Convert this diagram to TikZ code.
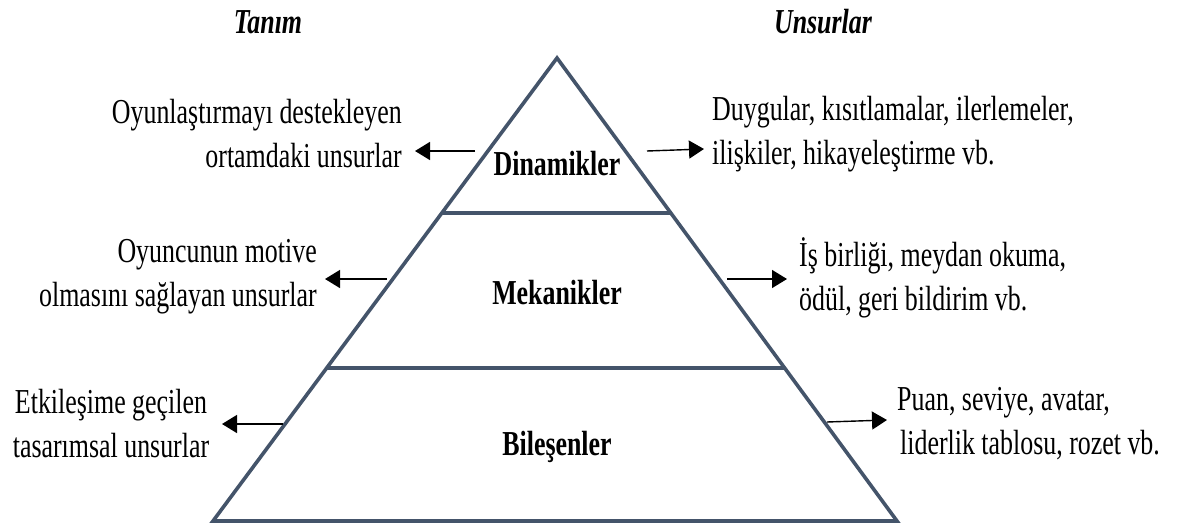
\documentclass[tikz,border=0pt]{standalone}
\usepackage{fontspec}
\setmainfont{Liberation Serif}[FakeStretch=0.74]
\usetikzlibrary{arrows.meta,calc}
\definecolor{edge}{HTML}{44546A}
\begin{document}
\begin{tikzpicture}[x=1pt,y=-1pt,
  pyramid/.style={draw=edge, line width=3.6pt, line join=miter},
  txt/.style={inner sep=0pt, font=\fontsize{35}{44}\selectfont},
  head/.style={txt, font=\fontsize{35}{44}\selectfont\bfseries\itshape},
  level/.style={txt, font=\fontsize{35}{44}\selectfont\bfseries},
  lefttxt/.style={txt, anchor=east, align=right},
  righttxt/.style={txt, anchor=west, align=left},
  pointer/.style={line width=1.4pt, -{Triangle[length=15pt,width=18pt]}}
]
\useasboundingbox (0,0) rectangle (1178,530);

% pyramid outline and level dividers
\coordinate (apex) at (557,58);
\coordinate (bl) at (213,521);
\coordinate (br) at (897,521);
\draw[pyramid] (apex) -- (br) -- (bl) -- cycle;
\coordinate (d1l) at ($(apex)!0.3348!(bl)$);
\coordinate (d1r) at ($(apex)!0.3348!(br)$);
\coordinate (d2l) at ($(apex)!0.6695!(bl)$);
\coordinate (d2r) at ($(apex)!0.6695!(br)$);
\draw[pyramid] (d1l) -- (d1r);
\draw[pyramid] (d2l) -- (d2r);

% column headings
\node[head] (hdef) at (268,22) {Tanım};
\node[head] (hel) at (823,22) {Unsurlar};

% level names
\node[level] (dyn) at (557,164) {Dinamikler};
\node[level] (mek) at (557,293) {Mekanikler};
\node[level] (bil) at (557,447) {Bileşenler};

% definitions (left)
\node[lefttxt] (ldyn) at (402,134) {Oyunlaştırmayı destekleyen\\ortamdaki unsurlar};
\node[lefttxt] (lmek) at (317,277) {Oyuncunun motive\\olmasını sağlayan unsurlar};
\node[txt, align=center] (lbil) at (111,424) {Etkileşime geçilen\\tasarımsal unsurlar};

% elements (right)
\node[righttxt] (rdyn) at (712,134) {Duygular, kısıtlamalar, ilerlemeler,\\ilişkiler, hikayeleştirme vb.};
\node[righttxt] (rmek) at (799,278) {İş birliği, meydan okuma,\\ödül, geri bildirim vb.};
\node[righttxt] (rbil) at (897,424) {Puan, seviye, avatar,\\\hspace*{3pt}liderlik tablosu, rozet vb.};

% pointer arrows
\coordinate (a1s) at (475,151); \coordinate (a1e) at (415,151);
\coordinate (a2s) at (647,151); \coordinate (a2e) at (704,149);
\coordinate (a3s) at (387,279); \coordinate (a3e) at (325,279);
\coordinate (a4s) at (727,279); \coordinate (a4e) at (787,279);
\coordinate (a5s) at (283,424); \coordinate (a5e) at (222,424);
\coordinate (a6s) at (827,422); \coordinate (a6e) at (887,420);
\draw[pointer] (a1s) -- (a1e);
\draw[pointer] (a2s) -- (a2e);
\draw[pointer] (a3s) -- (a3e);
\draw[pointer] (a4s) -- (a4e);
\draw[pointer] (a5s) -- (a5e);
\draw[pointer] (a6s) -- (a6e);
\end{tikzpicture}
\end{document}
